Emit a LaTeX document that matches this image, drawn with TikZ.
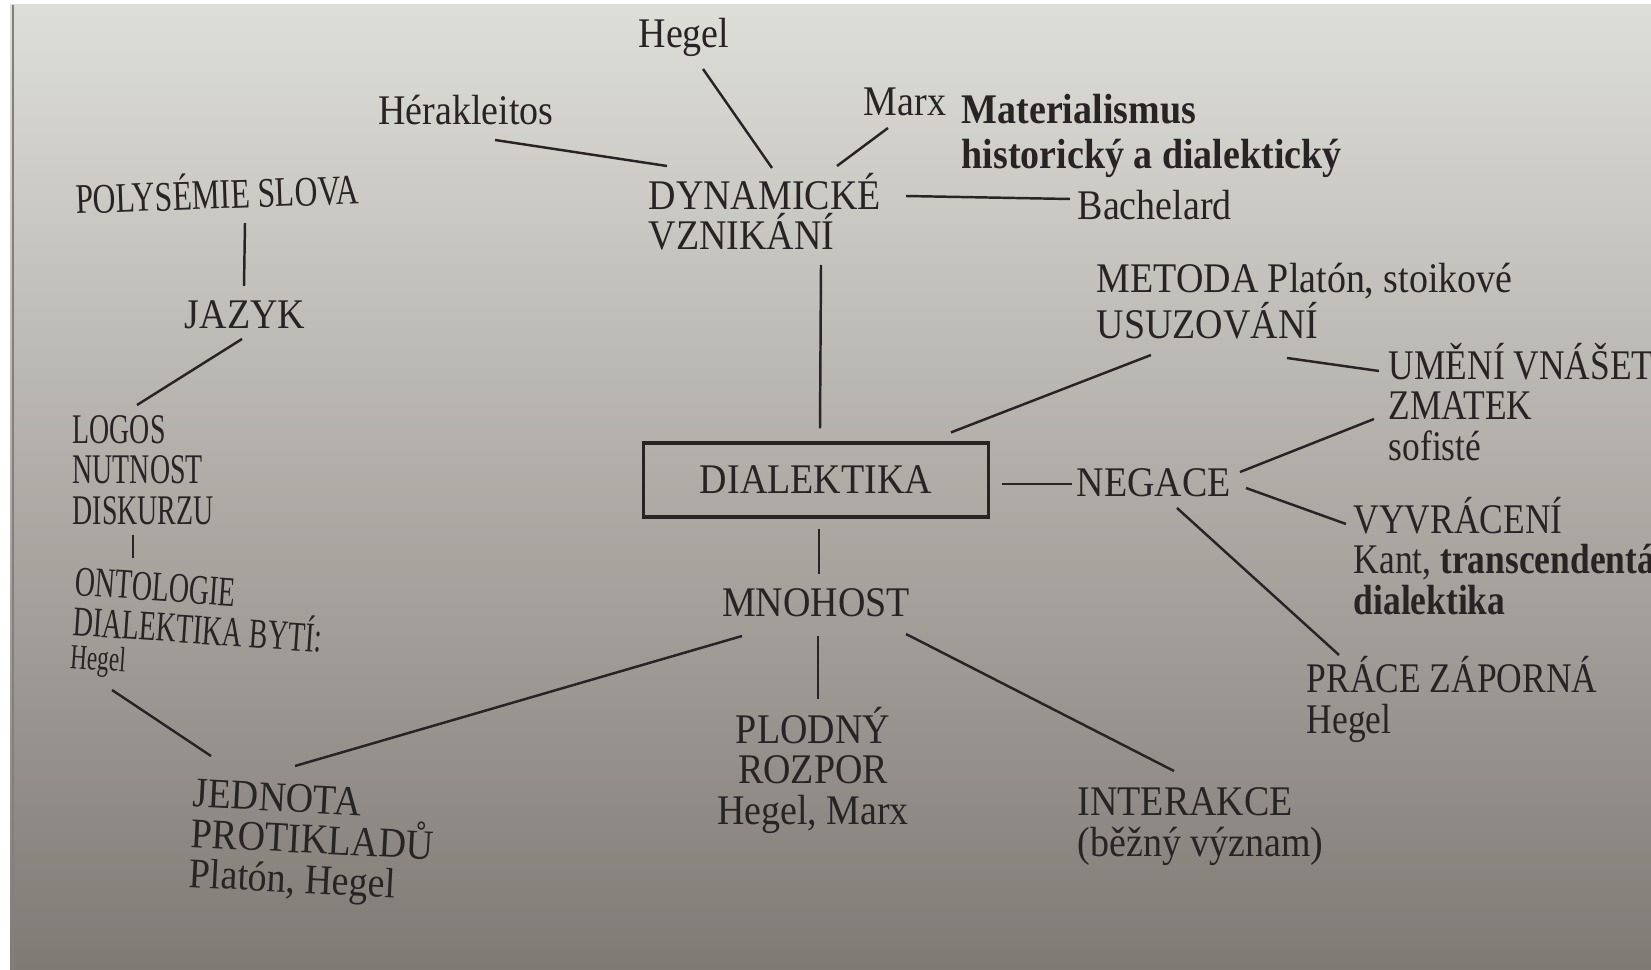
\documentclass[tikz,border=0pt]{standalone}
\usepackage{fontspec}
\setmainfont{Liberation Serif}[FakeStretch=0.9]
\newfontfamily\tightserif{Liberation Serif}[FakeStretch=0.66]
\newfontfamily\narrowserif{Liberation Serif}[FakeStretch=0.75]
\newfontfamily\farserif{Liberation Serif}[FakeStretch=0.84]
\usetikzlibrary{calc}
\definecolor{ink}{RGB}{40,36,36}
\definecolor{paperTop}{RGB}{222,222,216}
\definecolor{paperMid}{RGB}{150,145,140}
\definecolor{paperBot}{RGB}{128,122,117}

\begin{document}
\begin{tikzpicture}[x=0.01cm, y=-0.01cm,
  every node/.style={text=ink, font=\fontsize{12}{11.4}\selectfont, inner sep=0pt},
  link/.style={draw=ink, line width=0.7pt},
  lbl/.style={anchor=base west, align=left},
  ctr/.style={anchor=base, align=center},
  tight/.style={font=\tightserif\fontsize{12}{11.4}\selectfont},
  far/.style={font=\farserif\fontsize{12}{11.4}\selectfont}]

\useasboundingbox (0,0) rectangle (1651,970);
\clip (0,0) rectangle (1651,970);
% paper
\fill[white] (0,0) rectangle (1651,970);
\shade[top color=paperTop, middle color=paperMid, bottom color=paperBot] (10,5) rectangle (1651,970);
\draw[gray, line width=0.5pt] (13,5) -- (13,970);

% top branch (base = last line)
\node[ctr] (heg) at (684,48) {Hegel};
\node[ctr] (her) at (466,125) {Hérakleitos};
\node[ctr] (marx) at (905,116) {Marx};
\node[lbl] (mat) at (961,169) {\textbf{Materialismus}\\[1.4pt]\textbf{historický a dialektický}};
\node[lbl] (dyn) at (648,250) {DYNAMICKÉ\\VZNIKÁNÍ};
\node[lbl] (bach) at (1077,220) {Bachelard};

% left column
\node[ctr, rotate=2, font=\narrowserif\fontsize{12}{11.4}\selectfont] (pol) at (218,209) {POLYSÉMIE SLOVA};
\node[ctr] (jaz) at (245,328) {JAZYK};
\node[lbl, tight] (log) at (72,524) {LOGOS\\NUTNOST\\DISKURZU};
\node[lbl, tight, rotate=-4] (ont) at (69,668) {ONTOLOGIE\\DIALEKTIKA BYTÍ:\\[-2pt]{\fontsize{10}{10}\selectfont Hegel}};

% centre
\node[draw=ink, line width=0.9pt, minimum width=3.44cm, minimum height=0.74cm] (dia) at (816,480) {DIALEKTIKA};
\node[lbl] (neg) at (1076,496) {NEGACE};
\node[lbl] (met) at (1096,339) {METODA Platón, stoikové\\USUZOVÁNÍ};
\node[lbl, far] (umn) at (1388,460) {UMĚNÍ VNÁŠET\\ZMATEK\\sofisté};
\node[lbl, far] (vyv) at (1353,614) {VYVRÁCENÍ\\Kant, \textbf{transcendentální}\\\textbf{dialektika}};
\node[lbl, far] (pra) at (1306,733) {PRÁCE ZÁPORNÁ\\Hegel};

% bottom branch
\node[ctr] (mno) at (816,616) {MNOHOST};
\node[ctr] (plo) at (813,824) {PLODNÝ\\ROZPOR\\Hegel, Marx};
\node[lbl, rotate=-3] (jed) at (188,887) {JEDNOTA\\PROTIKLADŮ\\Platón, Hegel};
\node[lbl] (int) at (1077,856) {INTERAKCE\\(běžný význam)};

% connectors
\draw[link] ($(heg.base)+(19,21)$) -- ($(dyn.base west)+(124,-82)$);
\draw[link] ($(her.base)+(29,15)$) -- ($(dyn.base west)+(19,-84)$);
\draw[link] ($(marx.base)+(-17,12)$) -- ($(dyn.base west)+(189,-84)$);
\draw[link] ($(dyn.base west)+(258,-54)$) -- ($(bach.base west)+(-7,-21)$);
\draw[link] ($(dyn.base west)+(173,15)$) -- ($(dia.north)+(4,-13)$);

\draw[link] ($(pol.base)+(27,14)$) -- ($(jaz.base)+(-1,-42)$);
\draw[link] ($(jaz.base)+(-3,11)$) -- ($(log.base west)+(65,-119)$);
\draw[link] ($(log.base west)+(61,11)$) -- ($(ont.base west)+(64,-110)$);
\draw[link] ($(ont.base west)+(43,22)$) -- ($(jed.base west)+(23,-131)$);

\draw[link] ($(dia.south)+(3,10)$) -- ($(mno.base)+(3,-42)$);
\draw[link] ($(mno.base)+(-74,20)$) -- ($(jed.base west)+(107,-121)$);
\draw[link] ($(mno.base)+(2,20)$) -- ($(plo.base)+(5,-125)$);
\draw[link] ($(mno.base)+(90,18)$) -- ($(int.base west)+(97,-85)$);

\draw[link] ($(dia.east)+(12,4)$) -- ($(neg.base west)+(-4,-12)$);
\draw[link] ($(dia.north)+(135,-9)$) -- ($(met.base west)+(55,16)$);
\draw[link] ($(met.base west)+(191,19)$) -- ($(umn.base west)+(-9,-89)$);
\draw[link] ($(neg.base west)+(164,-24)$) -- ($(umn.base west)+(-14,-41)$);
\draw[link] ($(neg.base west)+(170,-8)$) -- ($(vyv.base west)+(-7,-90)$);
\draw[link] ($(neg.base west)+(101,12)$) -- ($(pra.base west)+(33,-78)$);
\end{tikzpicture}
\end{document}
